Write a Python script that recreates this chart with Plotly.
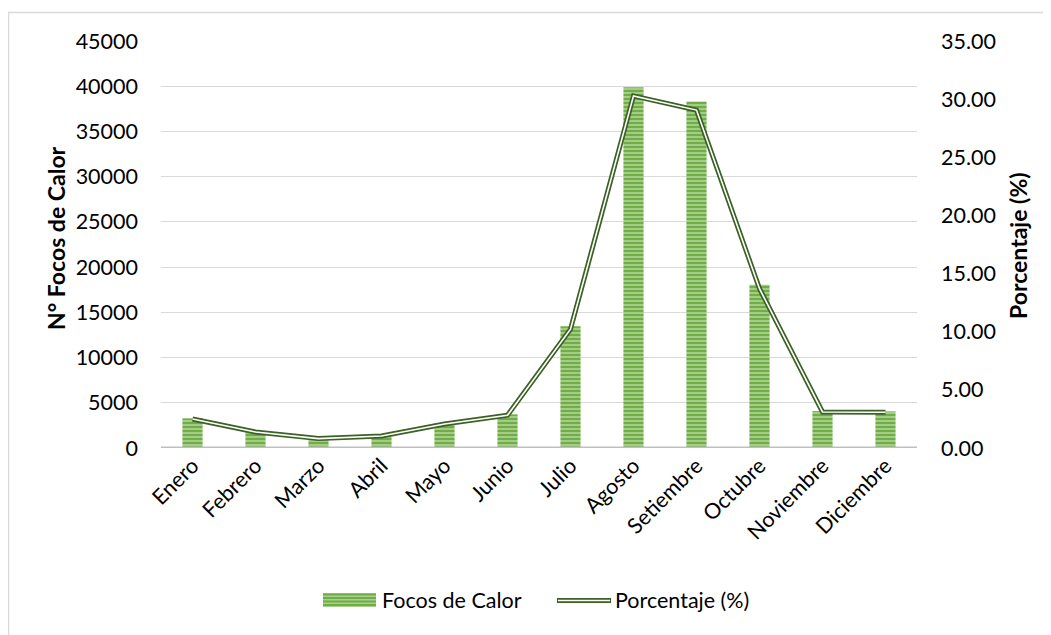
import plotly.graph_objects as go

meses = ["Enero", "Febrero", "Marzo", "Abril", "Mayo", "Junio", "Julio",
         "Agosto", "Setiembre", "Octubre", "Noviembre", "Diciembre"]
focos = [3280, 1800, 1070, 1360, 2720, 3720, 13450, 39900, 38300, 18050, 4080, 4050]
porcentaje = [2.49, 1.37, 0.81, 1.03, 2.06, 2.82, 10.21, 30.28, 29.06, 13.70, 3.10, 3.07]
left_ticks = [0, 5000, 10000, 15000, 20000, 25000, 30000, 35000, 40000, 45000]
right_ticks = [0, 5, 10, 15, 20, 25, 30, 35]

FONT = "Lato"
FS = 21.5
TFS = 23
W, H = 1051, 635
OFF = 8  # page body margin
# plot area in screen pixels: x 161..917, y 41..448
L = 161 - OFF
T = 41 - OFF
R = W - (917 - OFF)
B = H - (448 - OFF)
pw, ph = W - L - R, H - T - B
DARK = "#3B6125"
BAR_BG = "#A9D18E"
BAR_FG = "#70AD47"


def px(x):  # screen x -> paper
    return (x - OFF - L) / pw


def py(y):  # screen y -> paper
    return (H - B - (y - OFF)) / ph


fig = go.Figure()
fig.add_trace(go.Bar(
    x=meses, y=focos, name="Focos de Calor",
    marker=dict(color=BAR_BG, line=dict(width=0),
                pattern=dict(shape="-", fgcolor=BAR_FG, bgcolor=BAR_BG,
                             size=4, solidity=0.55, fillmode="replace")),
    yaxis="y",
))
fig.add_trace(go.Scatter(
    x=meses, y=porcentaje, name="Porcentaje (%)", mode="lines",
    line=dict(color=DARK, width=5), yaxis="y2",
))
fig.add_trace(go.Scatter(
    x=meses, y=porcentaje, name="Porcentaje (%)", mode="lines",
    line=dict(color="#FFFFFF", width=1.6), yaxis="y2",
))

fig.update_layout(
    width=W, height=H,
    margin=dict(l=L, r=R, t=T, b=B, autoexpand=False),
    paper_bgcolor="white", plot_bgcolor="white",
    font=dict(family=FONT, size=FS, color="#000000"),
    bargap=0.68,
    showlegend=False,
    xaxis=dict(tickangle=-45, showgrid=False, showline=False, ticks="",
               automargin=False, tickfont=dict(size=FS)),
    yaxis=dict(range=[0, 45000], tickvals=left_ticks, tickformat="d",
               showgrid=True, gridcolor="#D9D9D9", gridwidth=1, zeroline=False,
               showline=False, ticks="", ticklabelstandoff=22, automargin=False),
    yaxis2=dict(range=[0, 35], tickvals=right_ticks, tickformat=".2f",
                overlaying="y", side="right", showgrid=False, zeroline=False,
                showline=False, ticks="", ticklabelstandoff=23, automargin=False),
)

# axis titles
fig.add_annotation(text="<b>N° Focos de Calor</b>", xref="paper", yref="paper",
                   x=px(56), y=py(238), textangle=-90, showarrow=False,
                   xanchor="center", yanchor="middle", font=dict(size=TFS))
fig.add_annotation(text="<b>Porcentaje (%)</b>", xref="paper", yref="paper",
                   x=px(1018), y=py(245), textangle=-90, showarrow=False,
                   xanchor="center", yanchor="middle", font=dict(size=TFS))

# baseline axis line
fig.add_shape(type="line", xref="paper", yref="y", x0=0, x1=1, y0=0, y1=0,
              line=dict(color="#BFBFBF", width=3), layer="above")
# chart frame (left/top visible)
fig.add_shape(type="rect", xref="paper", yref="paper",
              x0=px(8.5), x1=1.6, y0=-1.0, y1=py(12.5),
              line=dict(color="#D9D9D9", width=1.5), fillcolor="rgba(0,0,0,0)",
              layer="below")

# custom legend
fig.add_shape(type="rect", xref="paper", yref="paper",
              x0=px(323), x1=px(376), y0=py(607), y1=py(593),
              line=dict(width=0), fillcolor=BAR_BG)
for sy in [594.5, 598, 601.5, 605]:
    fig.add_shape(type="line", xref="paper", yref="paper",
                  x0=px(323), x1=px(376), y0=py(sy), y1=py(sy),
                  line=dict(color=BAR_FG, width=1.8))
fig.add_annotation(text="Focos de Calor", xref="paper", yref="paper",
                   x=px(380), y=py(600), xanchor="left", yanchor="middle",
                   showarrow=False, font=dict(size=FS))
fig.add_shape(type="line", xref="paper", yref="paper",
              x0=px(557), x1=px(611), y0=py(600.5), y1=py(600.5),
              line=dict(color=DARK, width=5))
fig.add_shape(type="line", xref="paper", yref="paper",
              x0=px(558), x1=px(610), y0=py(600.5), y1=py(600.5),
              line=dict(color="#FFFFFF", width=1.6))
fig.add_annotation(text="Porcentaje (%)", xref="paper", yref="paper",
                   x=px(613), y=py(600), xanchor="left", yanchor="middle",
                   showarrow=False, font=dict(size=FS))

fig.write_html("out.html")
